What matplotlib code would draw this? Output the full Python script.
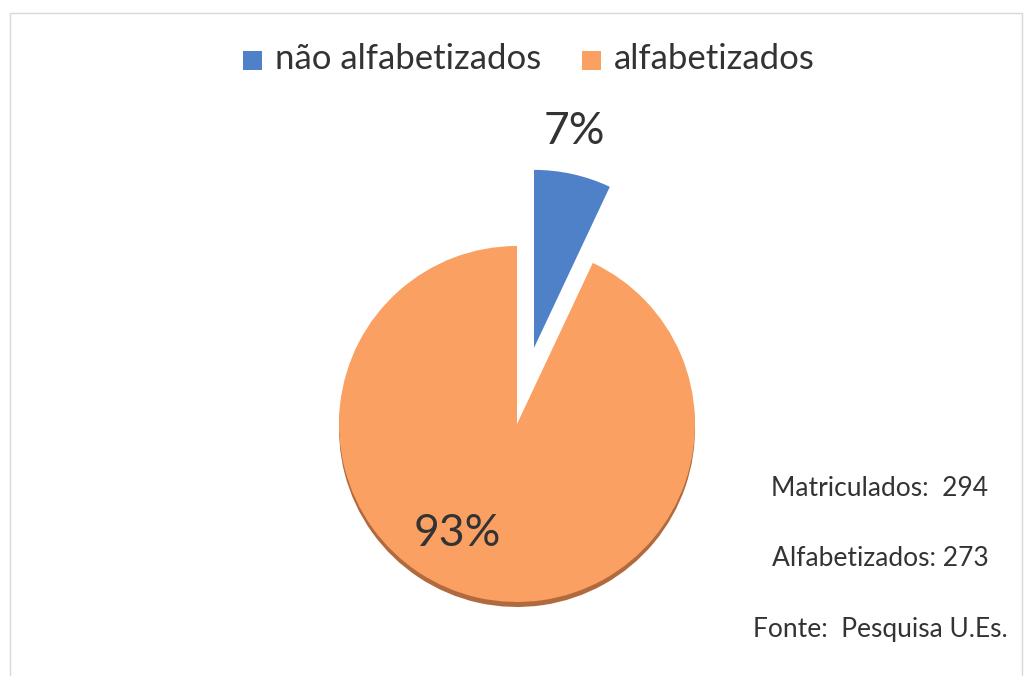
import matplotlib.pyplot as plt
from matplotlib.patches import Rectangle

# dados
categorias = ["não alfabetizados", "alfabetizados"]
percentuais = [7, 93]
cores = ["#4F81C8", "#F9A062"]
rotulos_pct = ["7%", "93%"]
notas = ["Matriculados:  294", "Alfabetizados: 273", "Fonte:  Pesquisa U.Es."]

W, H = 1026, 676
TEXT_COLOR = "#333333"
plt.rcParams['font.family'] = ['Lato', 'DejaVu Sans']

fig = plt.figure(figsize=(W / 100, H / 100), dpi=100)
ax = fig.add_axes([0, 0, 1, 1])

centro = (517, H - 424)
raio = 178
explode = [78, 0]  # deslocamento em unidades de dados (px)

# sombra inferior (efeito 3D)
ax.pie(percentuais, colors=["none", "#B06A3E"], startangle=90, counterclock=False,
       explode=explode, radius=raio, center=(centro[0], centro[1] - 5),
       wedgeprops=dict(linewidth=0), frame=True)
ax.pie(percentuais, colors=cores, startangle=90, counterclock=False,
       explode=explode, radius=raio, center=centro,
       wedgeprops=dict(linewidth=0), frame=True)
ax.set_xlim(0, W)
ax.set_ylim(0, H)
ax.set_aspect('equal')
ax.axis('off')

# rótulos de porcentagem
ax.text(574, H - 131, rotulos_pct[0], fontsize=32, color=TEXT_COLOR, ha='center', va='center')
ax.text(457, H - 533, rotulos_pct[1], fontsize=32, color=TEXT_COLOR, ha='center', va='center')

# legenda
leg_x = [243, 582]
for x, cat, cor in zip(leg_x, categorias, cores):
    ax.add_patch(Rectangle((x, H - 70), 19, 19, color=cor, lw=0))
    ax.text(x + 32, H - 59, cat, fontsize=25, color=TEXT_COLOR, ha='left', va='center')

# notas
for i, nota in enumerate(notas):
    ax.text(880, H - 488 - i * 71, nota, fontsize=19, color=TEXT_COLOR, ha='center', va='center')

# moldura
fig.add_artist(Rectangle((10 / W, -0.01), (W - 14) / W, (H - 13) / H + 0.01,
                         transform=fig.transFigure, fill=False, ec="#d8d8d8", lw=1))

fig.savefig("out.png", dpi=100, facecolor="white")
